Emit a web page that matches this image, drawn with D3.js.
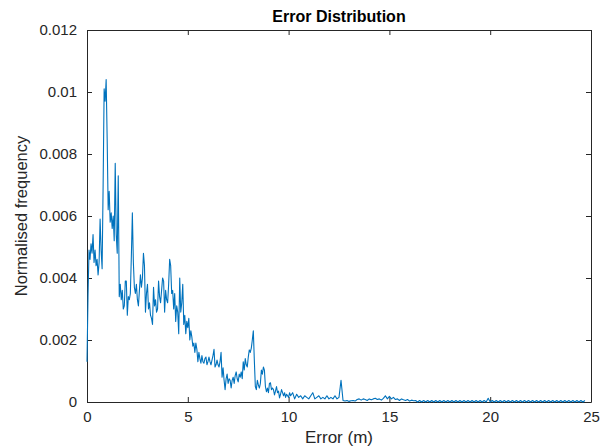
<!DOCTYPE html>
<html lang="en">
<head>
    <meta charset="UTF-8">
    <title>Error Distribution</title>
    <script src="https://d3js.org/d3.v7.min.js"></script>
    <style>
        body {
            margin: 0;
            background: #ffffff;
            font-family: "Liberation Sans", Arial, sans-serif;
        }
        svg {
            display: block;
        }
        .axis path, .axis line {
            stroke: #262626;
        }
        .axis text {
            fill: #262626;
            font-size: 15px;
            font-family: "Liberation Sans", Arial, sans-serif;
        }
    </style>
</head>
<body>

    <div id="container"></div>

    <script>
        // tick labels
        const xTicks = [0, 5, 10, 15, 20, 25];
        const yTicks = [0, 0.002, 0.004, 0.006, 0.008, 0.01, 0.012];

        // dense part of the histogram: bins of 0.05 m from 0 to ~10 m
        // values in thousandths (x 0.001)
        const denseStart = 0;
        const denseStep = 0.05;
        const denseFreq = [
            1.3, 3.4, 4.9, 4.6, 5.1, 4.8, 5.4, 4.5, 4.9, 4.4,
            4.6, 4.1, 4.5, 5.9, 4.9, 4.3, 7.0, 10.1, 9.7, 10.4,
            8.5, 6.2, 6.8, 5.8, 6.1, 5.6, 6.0, 5.2, 7.7, 5.4,
            4.8, 7.3, 3.4, 3.8, 3.3, 3.6, 3.0, 3.1, 3.9, 3.9,
            2.8, 3.4, 3.3, 3.5, 4.7, 6.1, 4.5, 3.7, 3.5, 3.8,
            3.3, 3.1, 3.6, 4.1, 3.7, 4.0, 4.8, 4.4, 2.9, 3.5,
            3.8, 3.0, 3.2, 2.8, 2.7, 2.5, 3.7, 3.1, 3.3, 2.9,
            3.0, 3.9, 3.4, 3.2, 3.6, 4.0, 3.9, 2.9, 3.6, 3.3,
            3.2, 3.8, 4.6, 4.4, 3.5, 3.6, 3.0, 3.5, 2.6, 3.1,
            2.9, 2.2, 4.0, 2.9, 3.2, 3.8, 2.5, 2.8, 2.2, 2.6,
            2.4, 2.7, 2.0, 2.3, 2.1, 1.8, 1.9, 1.6, 1.9, 1.7,
            1.3, 1.6, 1.4, 1.25, 1.5, 1.3, 1.25, 1.4, 1.45, 1.2,
            1.3, 1.45, 1.3, 1.2, 1.35, 1.5, 1.7, 1.13, 1.2, 1.35,
            1.2, 1.13, 1.3, 1.6, 0.8, 1.1, 0.7, 0.4, 0.75, 0.9,
            0.6, 0.75, 0.7, 0.45, 0.7, 0.8, 0.6, 0.85, 0.97, 0.75,
            0.65, 0.9, 0.8, 0.97, 0.75, 1.3, 1.03, 1.4, 1.2, 1.13,
            1.45, 1.68, 1.6, 1.74, 2.0, 2.3, 1.35, 0.5, 0.4, 0.7,
            0.55, 0.45, 0.6, 1.03, 0.9, 1.13, 1.03, 0.5, 0.33, 0.45,
            0.3, 0.6, 0.62, 0.4, 0.45, 0.4, 0.23, 0.35, 0.5, 0.3,
            0.35, 0.13, 0.25, 0.4, 0.3, 0.2, 0.3, 0.15, 0.25, 0.2,
            0.15, 0.3
        ];

        // sparse tail: bins of 0.1 m from 10.1 m onwards
        const tailStart = 10.1;
        const tailStep = 0.1;
        const tailFreq = [
            0.2, 0.3, 0.1, 0.25, 0.15, 0.2, 0.1, 0.2, 0.15, 0.1,
            0.2, 0.3, 0.1, 0.15, 0.2, 0.1, 0.15, 0.1, 0.2, 0.1,
            0.15, 0.1, 0.2, 0.1, 0.15, 0.7, 0.05, 0.03, 0.05, 0.02,
            0.04, 0.05, 0.03, 0.08, 0.1, 0.06, 0.1, 0.08, 0.05, 0.1,
            0.07, 0.1, 0.12, 0.08, 0.1, 0.06, 0.12, 0.2, 0.1, 0.18,
            0.1, 0.15, 0.08, 0.1, 0.05, 0.1, 0.07, 0.05, 0.08, 0.03,
            0.06, 0.04, 0.05, 0, 0.05, 0, 0.05, 0, 0.05, 0,
            0.05, 0, 0.05, 0, 0.05, 0, 0.05, 0, 0.05, 0,
            0.05, 0, 0.05, 0, 0.05, 0, 0.05, 0, 0.05, 0,
            0.05, 0, 0.05, 0, 0.05, 0, 0.05, 0, 0.12, 0,
            0.05, 0, 0.05, 0, 0.05, 0, 0.05, 0, 0.05, 0,
            0.05, 0, 0.05, 0, 0.05, 0, 0.05, 0, 0.05, 0,
            0.05, 0, 0.05, 0, 0.05, 0, 0.05, 0, 0.05, 0,
            0.05, 0, 0.05, 0, 0.05, 0, 0.05, 0, 0.05, 0,
            0.05, 0, 0.05, 0, 0.05, 0, 0.05
        ];

        // build [error, frequency] pairs
        const data = [];
        denseFreq.forEach((v, i) => data.push([denseStart + i * denseStep, v * 0.001]));
        tailFreq.forEach((v, i) => data.push([tailStart + i * tailStep, v * 0.001]));

        const width = 608;
        const height = 447;

        // plot box
        const boxLeft = 87;
        const boxRight = 591;
        const boxTop = 30;
        const boxBottom = 402;

        const svg = d3.select('#container')
            .append('svg')
            .attr('width', width)
            .attr('height', height);

        const x = d3.scaleLinear()
            .domain([0, 25])
            .range([boxLeft, boxRight]);

        const y = d3.scaleLinear()
            .domain([0, 0.012])
            .range([boxBottom, boxTop]);

        const tickLen = 5;

        // bottom axis (ticks point inward)
        svg.append('g')
            .attr('class', 'axis')
            .attr('transform', `translate(0,${boxBottom})`)
            .call(d3.axisBottom(x)
                .tickValues(xTicks)
                .tickSizeInner(-tickLen)
                .tickSizeOuter(0)
                .tickPadding(9)
                .tickFormat(d3.format('~g')));

        // left axis
        svg.append('g')
            .attr('class', 'axis')
            .attr('transform', `translate(${boxLeft},0)`)
            .call(d3.axisLeft(y)
                .tickValues(yTicks)
                .tickSizeInner(-tickLen)
                .tickSizeOuter(0)
                .tickPadding(10)
                .tickFormat(d3.format('~g')));

        // top and right edges of the box
        svg.append('g')
            .attr('class', 'axis')
            .attr('transform', `translate(0,${boxTop})`)
            .call(d3.axisTop(x)
                .tickValues(xTicks)
                .tickSizeInner(-tickLen)
                .tickSizeOuter(0)
                .tickFormat(''));

        svg.append('g')
            .attr('class', 'axis')
            .attr('transform', `translate(${boxRight},0)`)
            .call(d3.axisRight(y)
                .tickValues(yTicks)
                .tickSizeInner(-tickLen)
                .tickSizeOuter(0)
                .tickFormat(''));

        // the data line
        const line = d3.line()
            .x(d => x(d[0]))
            .y(d => y(d[1]));

        svg.append('path')
            .datum(data)
            .attr('fill', 'none')
            .attr('stroke', '#0072BD')
            .attr('stroke-width', 1.1)
            .attr('stroke-linejoin', 'round')
            .attr('d', line);

        // title
        svg.append('text')
            .attr('x', (boxLeft + boxRight) / 2)
            .attr('y', 22)
            .attr('text-anchor', 'middle')
            .attr('font-size', '16px')
            .attr('font-weight', 'bold')
            .attr('fill', '#000')
            .text('Error Distribution');

        // axis labels
        svg.append('text')
            .attr('x', (boxLeft + boxRight) / 2)
            .attr('y', 443)
            .attr('text-anchor', 'middle')
            .attr('font-size', '17px')
            .attr('fill', '#262626')
            .text('Error (m)');

        svg.append('text')
            .attr('transform', `translate(27,${(boxTop + boxBottom) / 2}) rotate(-90)`)
            .attr('text-anchor', 'middle')
            .attr('font-size', '16.5px')
            .attr('fill', '#262626')
            .text('Normalised frequency');
    </script>

</body>
</html>
